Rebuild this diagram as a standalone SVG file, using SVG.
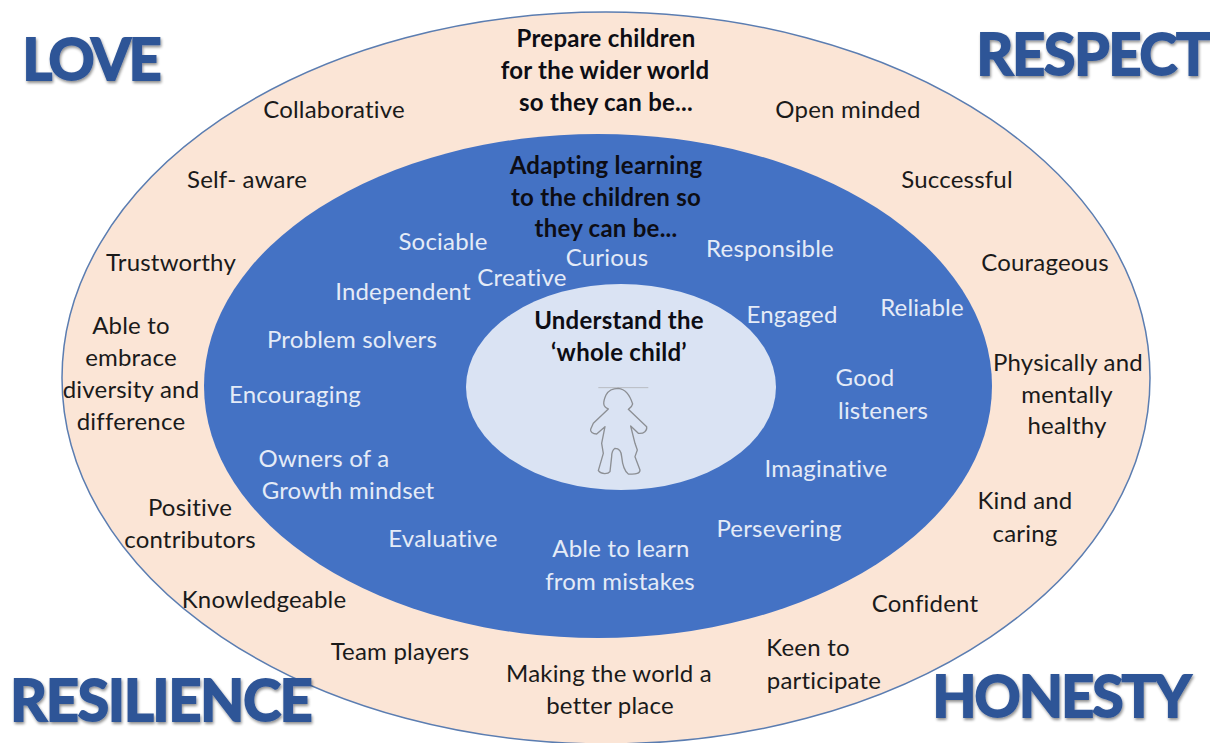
<svg xmlns="http://www.w3.org/2000/svg" width="1210" height="743" viewBox="0 0 1210 743">
<defs>
<filter id="sh" x="-5%" y="-10%" width="110%" height="125%"><feGaussianBlur in="SourceAlpha" stdDeviation="1.5"/><feOffset dx="1" dy="2"/><feComponentTransfer><feFuncA type="linear" slope="0.45"/></feComponentTransfer><feMerge><feMergeNode/><feMergeNode in="SourceGraphic"/></feMerge></filter>
</defs>
<style>
text{font-family:"Lato","Carlito","Open Sans",sans-serif;font-size:24px;letter-spacing:.2px;text-anchor:middle}
.o{fill:#1a1a1a}
.i{fill:#e4ebf7}
.b{font-weight:700;fill:#0d0d14;letter-spacing:.25px}
.t{font-weight:700;font-size:57px;fill:#2f5597;filter:url(#sh);stroke:#2f5597;stroke-width:2}
</style>
<rect width="1210" height="743" fill="#ffffff"/>
<g id="outer"><ellipse cx="606" cy="378" rx="544" ry="366" fill="#fbe5d6" stroke="#5b7db1" stroke-width="1.5"/>
<text class="b" x="606" y="47">Prepare children</text><text class="b" x="605" y="79">for the wider world</text><text class="b" x="606" y="111">so they can be...</text>
<text class="o" x="334" y="118">Collaborative</text>
<text class="o" x="848" y="118">Open minded</text>
<text class="o" x="247" y="188">Self- aware</text>
<text class="o" x="957" y="188">Successful</text>
<text class="o" x="171" y="271">Trustworthy</text>
<text class="o" x="1045" y="271">Courageous</text>
<text class="o" x="131" y="334">Able to</text><text class="o" x="131" y="366">embrace</text><text class="o" x="131" y="398">diversity and</text><text class="o" x="131" y="430">difference</text>
<text class="o" x="1068" y="371">Physically and</text><text class="o" x="1067" y="403">mentally</text><text class="o" x="1067" y="434">healthy</text>
<text class="o" x="1025" y="509">Kind and</text><text class="o" x="1025" y="542">caring</text>
<text class="o" x="190" y="516">Positive</text><text class="o" x="190" y="548">contributors</text>
<text class="o" x="264" y="608">Knowledgeable</text>
<text class="o" x="925" y="612">Confident</text>
<text class="o" x="400" y="660">Team players</text>
<text class="o" x="808" y="656">Keen to</text><text class="o" x="824" y="689">participate</text>
<text class="o" x="609" y="682">Making the world a</text><text class="o" x="610" y="714">better place</text>
</g>
<g id="middle"><ellipse cx="598" cy="386" rx="394" ry="252" fill="#4472c4"/>
<text class="b" x="606" y="174">Adapting learning</text><text class="b" x="606" y="206">to the children so</text><text class="b" x="606" y="237">they can be...</text>
<text class="i" x="443" y="250">Sociable</text>
<text class="i" x="607" y="266">Curious</text>
<text class="i" x="770" y="257">Responsible</text>
<text class="i" x="522" y="286">Creative</text>
<text class="i" x="403" y="300">Independent</text>
<text class="i" x="792" y="323">Engaged</text>
<text class="i" x="922" y="316">Reliable</text>
<text class="i" x="352" y="348">Problem solvers</text>
<text class="i" x="295" y="403">Encouraging</text>
<text class="i" x="865" y="386">Good</text><text class="i" x="883" y="419">listeners</text>
<text class="i" x="324" y="467">Owners of a</text><text class="i" x="348" y="499">Growth mindset</text>
<text class="i" x="826" y="477">Imaginative</text>
<text class="i" x="779" y="537">Persevering</text>
<text class="i" x="443" y="547">Evaluative</text>
<text class="i" x="621" y="557">Able to learn</text><text class="i" x="620" y="590">from mistakes</text>
</g>
<g id="centre"><ellipse cx="621" cy="387" rx="155" ry="103" fill="#dae3f3"/>
<text class="b" x="619" y="329">Understand the</text><text class="b" x="619" y="361">‘whole child’</text>
<g transform="translate(500 280) scale(.3333)" fill="none" stroke="#8c8f94" stroke-width="4" stroke-linejoin="round">
<path d="M295 323H445" stroke="#b8bcc2" stroke-width="3"/>
<path d="M325 387C308 380 308 368 318 345C326 330 340 325 355 325C375 327 388 340 398 372C396 382 390 385 385 388L440 440C442 452 432 462 415 460L392 438L405 490L412 510L405 530L420 570C420 580 410 584 385 582C375 575 368 560 365 530C364 512 358 505 345 505C338 510 335 520 335 530L330 575C325 582 305 585 295 572L310 520L305 490L315 440L290 462C278 462 270 455 272 448L280 430Z"/>
</g></g>
<g id="values">
<text class="t" x="91" y="80" style="letter-spacing:-2px">LOVE</text>
<text class="t" x="1093" y="75" style="letter-spacing:-1px">RESPECT</text>
<text class="t" x="161" y="721" style="letter-spacing:-1px">RESILIENCE</text>
<text class="t" x="1061" y="717" style="letter-spacing:-1.7px">HONESTY</text>
</g>
</svg>
